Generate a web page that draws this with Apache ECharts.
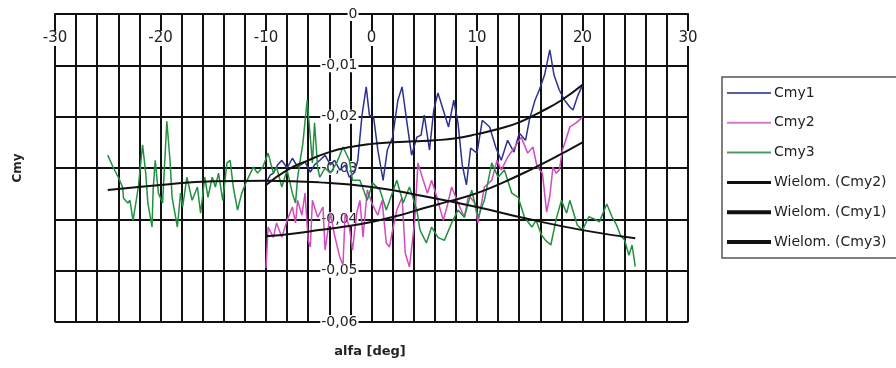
<!DOCTYPE html>
<html>
<head>
<meta charset="utf-8">
<script src="https://cdn.jsdelivr.net/npm/echarts@6/dist/echarts.min.js"></script>
<style>
  html, body { margin: 0; padding: 0; background: #fff; }
  #chart { width: 896px; height: 368px; }
</style>
</head>
<body>
<div id="chart"></div>
<script>
// Measured moment coefficient Cmy against angle of attack alfa [deg]
const cmy1 = [
  [-10,-0.0329],[-9.6,-0.0314],[-9.3,-0.0310],[-8.9,-0.0294],[-8.5,-0.0285],[-8,-0.0300],[-7.5,-0.0281],
  [-7,-0.0298],[-6.3,-0.0288],[-5.8,-0.0308],[-5.4,-0.0294],[-4.9,-0.0285],[-4.4,-0.0275],[-3.9,-0.0294],
  [-3.5,-0.0285],[-3,-0.0304],[-2.5,-0.0294],[-2.1,-0.0318],[-1.6,-0.0308],[-1.3,-0.0285],[-0.9,-0.0197],
  [-0.5,-0.0142],[-0.2,-0.0197],[0.2,-0.0201],[0.6,-0.0265],[1.1,-0.0324],[1.5,-0.0265],[2,-0.0240],
  [2.5,-0.0168],[2.9,-0.0142],[3.3,-0.0203],[3.8,-0.0275],[4.3,-0.0240],[4.7,-0.0236],[5,-0.0197],
  [5.5,-0.0265],[5.9,-0.0187],[6.3,-0.0154],[6.8,-0.0187],[7.3,-0.0220],[7.8,-0.0168],[8.2,-0.0212],
  [8.6,-0.0294],[9,-0.0333],[9.4,-0.0261],[10,-0.0271],[10.5,-0.0207],[11.2,-0.0220],[11.8,-0.0261],
  [12.3,-0.0285],[12.9,-0.0246],[13.5,-0.0269],[14,-0.0232],[14.6,-0.0246],[15,-0.0203],[15.5,-0.0168],
  [15.9,-0.0148],[16.4,-0.0119],[16.9,-0.0070],[17.3,-0.0119],[17.8,-0.0148],[18.3,-0.0168],[18.8,-0.0181],
  [19.1,-0.0187],[19.5,-0.0162],[20,-0.0138]
];

const cmy2 = [
  [-10,-0.0495],[-9.8,-0.0415],[-9.3,-0.0435],[-9,-0.0407],[-8.5,-0.0435],[-8,-0.0402],[-7.5,-0.0376],
  [-7.2,-0.0407],[-7,-0.0363],[-6.6,-0.0392],[-6.3,-0.0349],[-6,-0.0441],[-5.8,-0.0454],[-5.6,-0.0363],
  [-5.1,-0.0396],[-4.6,-0.0376],[-4.4,-0.0460],[-3.9,-0.0388],[-3.5,-0.0431],[-3,-0.0474],[-2.7,-0.0489],
  [-2.5,-0.0388],[-2.1,-0.0415],[-1.8,-0.0460],[-1.4,-0.0388],[-1.1,-0.0363],[-0.8,-0.0435],[-0.4,-0.0343],
  [0.1,-0.0372],[0.6,-0.0392],[1,-0.0363],[1.4,-0.0446],[1.7,-0.0454],[2,-0.0421],[2.4,-0.0382],
  [2.9,-0.0357],[3.2,-0.0466],[3.6,-0.0493],[4.1,-0.0402],[4.4,-0.0290],[4.9,-0.0324],[5.3,-0.0349],
  [5.7,-0.0324],[6.2,-0.0357],[6.8,-0.0402],[7.2,-0.0372],[7.6,-0.0337],[8.1,-0.0363],[8.8,-0.0396],
  [9.2,-0.0353],[9.8,-0.0368],[10.1,-0.0407],[10.7,-0.0337],[11.4,-0.0324],[11.9,-0.0285],[12.3,-0.0304],
  [12.9,-0.0279],[13.6,-0.0259],[14.2,-0.0240],[14.8,-0.0271],[15.3,-0.0259],[15.7,-0.0298],[16.2,-0.0310],
  [16.6,-0.0386],[16.9,-0.0355],[17.2,-0.0298],[17.5,-0.0310],[17.8,-0.0304],[18.1,-0.0265],[18.5,-0.0240],
  [18.8,-0.0220],[19.4,-0.0212],[20,-0.0201]
];

const cmy3 = [
  [-25,-0.0275],[-24.5,-0.0298],[-24,-0.0318],[-23.6,-0.0337],[-23.5,-0.0359],[-23.1,-0.0368],[-22.9,-0.0363],
  [-22.6,-0.0402],[-22.1,-0.0337],[-21.7,-0.0255],[-21.4,-0.0310],[-21.2,-0.0368],[-20.8,-0.0415],[-20.7,-0.0343],
  [-20.5,-0.0285],[-20.2,-0.0349],[-19.8,-0.0368],[-19.4,-0.0209],[-19.1,-0.0285],[-18.9,-0.0357],[-18.4,-0.0415],
  [-18.1,-0.0349],[-17.9,-0.0376],[-17.5,-0.0318],[-17,-0.0363],[-16.5,-0.0337],[-16.2,-0.0388],[-15.8,-0.0318],
  [-15.5,-0.0357],[-15.1,-0.0318],[-14.8,-0.0337],[-14.5,-0.0310],[-14.1,-0.0363],[-13.7,-0.0290],[-13.4,-0.0285],
  [-13.1,-0.0337],[-12.7,-0.0382],[-12.3,-0.0349],[-11.8,-0.0324],[-11.2,-0.0298],[-10.8,-0.0310],[-10.3,-0.0298],
  [-9.8,-0.0271],[-9.3,-0.0310],[-9,-0.0298],[-8.5,-0.0337],[-8,-0.0304],[-7.5,-0.0349],[-7.2,-0.0368],
  [-7,-0.0318],[-6.5,-0.0251],[-6.1,-0.0168],[-5.8,-0.0240],[-5.6,-0.0290],[-5.4,-0.0212],[-5.1,-0.0300],
  [-4.9,-0.0318],[-4.4,-0.0300],[-3.9,-0.0310],[-3.3,-0.0290],[-2.7,-0.0259],[-2.1,-0.0285],[-1.8,-0.0324],
  [-1.1,-0.0324],[-0.4,-0.0363],[0.1,-0.0329],[0.8,-0.0343],[1.4,-0.0382],[2.4,-0.0324],[3,-0.0368],
  [3.6,-0.0337],[4.3,-0.0382],[4.6,-0.0421],[5.2,-0.0446],[5.7,-0.0415],[6.3,-0.0435],[6.9,-0.0441],
  [7.6,-0.0407],[8.2,-0.0382],[8.8,-0.0396],[9.5,-0.0343],[10.1,-0.0396],[10.7,-0.0363],[11.4,-0.0290],
  [12,-0.0318],[12.6,-0.0304],[13.3,-0.0349],[13.9,-0.0357],[14.5,-0.0396],[15.2,-0.0415],[15.6,-0.0402],
  [16.1,-0.0430],[16.5,-0.0441],[17,-0.0450],[17.5,-0.0400],[18,-0.0363],[18.5,-0.0388],[18.8,-0.0363],
  [19.5,-0.0411],[20,-0.0421],[20.6,-0.0395],[21.2,-0.0400],[21.6,-0.0405],[22.3,-0.0370],[22.8,-0.0395],
  [23.2,-0.0410],[23.6,-0.0431],[24,-0.0441],[24.4,-0.0470],[24.7,-0.0450],[25,-0.0492]
];

// Polynomial trend curves ("Wielom.") sampled along alfa
const trendCmy1 = [
  [-10,-0.0333],[-8,-0.0304],[-6,-0.0285],[-4,-0.0269],[-2,-0.0259],[0,-0.0253],[2,-0.0250],[4,-0.0248],
  [6,-0.0246],[8,-0.0242],[10,-0.0234],[12,-0.0224],[14,-0.0211],[16,-0.0191],[18,-0.0168],[20,-0.0138]
];
const trendCmy2 = [
  [-10,-0.0433],[-7.5,-0.0428],[-5,-0.0421],[-2.5,-0.0414],[0,-0.0405],[2.5,-0.0393],[5,-0.0378],
  [7.5,-0.0364],[10,-0.0349],[12.5,-0.0328],[15,-0.0304],[17.5,-0.0278],[20,-0.0250]
];
const trendCmy3 = [
  [-25,-0.0343],[-20,-0.0333],[-15,-0.0326],[-10,-0.0325],[-5,-0.0328],[0,-0.0337],[5,-0.0355],
  [10,-0.0376],[15,-0.0400],[20,-0.0421],[25,-0.0437]
];

const xMin = -30, xMax = 30, xGridStep = 2, xLabelStep = 10;
const yMin = -0.06, yMax = 0, yStep = 0.01;

const FONT = 'DejaVu Sans, Verdana, sans-serif';
const GRID = { left: 55, right: 208, top: 14, bottom: 46 };
const chartEl = document.getElementById('chart');
const chart = echarts.init(chartEl, null, { renderer: 'canvas' });

// The value axis sits on alfa = 0, inside the plot
const plotWidth = chartEl.clientWidth - GRID.left - GRID.right;
const yAxisShift = plotWidth * (0 - xMin) / (xMax - xMin);

function dataSeries(name, data, color) {
  return {
    name, type: 'line', data, symbol: 'none', smooth: false,
    lineStyle: { color, width: 1.5 }, itemStyle: { color }, z: 3, silent: true
  };
}
function trendSeries(name, data) {
  return {
    name, type: 'line', data, symbol: 'none', smooth: true,
    lineStyle: { color: '#111', width: 2 }, itemStyle: { color: '#111' }, z: 4, silent: true
  };
}

chart.setOption({
  animation: false,
  backgroundColor: '#fff',
  grid: Object.assign({
    show: true, borderColor: '#8a8a8a', borderWidth: 1.5, backgroundColor: '#fff'
  }, GRID),
  xAxis: {
    type: 'value', min: xMin, max: xMax, interval: xGridStep, position: 'top',
    axisLine: { onZero: false, lineStyle: { color: '#111', width: 2 } },
    axisTick: { show: false },
    axisLabel: {
      inside: true, margin: 17, color: '#222', fontFamily: FONT, fontSize: 15,
      backgroundColor: '#fff', padding: [0, 1],
      showMinLabel: true, showMaxLabel: true,
      formatter: v => (v % xLabelStep === 0 ? String(v) : '')
    },
    splitLine: { show: true, lineStyle: { color: '#111', width: 2 } }
  },
  yAxis: {
    type: 'value', min: yMin, max: yMax, interval: yStep, position: 'left',
    offset: -yAxisShift,
    axisLine: { onZero: false, lineStyle: { color: '#111', width: 2 } },
    axisTick: { show: false },
    axisLabel: {
      margin: 13, color: '#222', fontFamily: FONT, fontSize: 14,
      backgroundColor: '#fff', padding: [0, 1],
      formatter: v => (Math.abs(v) < 1e-9 ? '0' : v.toFixed(2).replace('.', ','))
    },
    splitLine: { show: true, lineStyle: { color: '#111', width: 2 } }
  },
  legend: {
    orient: 'vertical', left: 722, top: 77,
    padding: [9, 40, 9, 3], itemGap: 15.8, itemWidth: 44, itemHeight: 14,
    borderColor: '#555', borderWidth: 1.5, backgroundColor: '#fff',
    itemStyle: { opacity: 0 },
    textStyle: { fontFamily: FONT, fontSize: 14, color: '#222', padding: [0, 0, 0, -2] },
    data: [
      { name: 'Cmy1', lineStyle: { width: 2, color: '#5a5c9e' } },
      { name: 'Cmy2', lineStyle: { width: 2, color: '#d878cc' } },
      { name: 'Cmy3', lineStyle: { width: 2, color: '#4e9a66' } },
      { name: 'Wielom. (Cmy2)', lineStyle: { width: 3 } },
      { name: 'Wielom. (Cmy1)', lineStyle: { width: 4 } },
      { name: 'Wielom. (Cmy3)', lineStyle: { width: 4 } }
    ]
  },
  graphic: [
    {
      type: 'text', x: 370, y: 352,
      style: {
        text: 'alfa [deg]', fontFamily: FONT, fontSize: 13, fontWeight: 'bold', fill: '#222',
        align: 'center', verticalAlign: 'middle'
      }
    },
    {
      type: 'text', x: 18, y: 168, rotation: Math.PI / 2,
      style: {
        text: 'Cmy', fontFamily: FONT, fontSize: 12, fontWeight: 'bold', fill: '#222',
        align: 'center', verticalAlign: 'middle'
      }
    }
  ],
  series: [
    dataSeries('Cmy1', cmy1, '#2e3192'),
    dataSeries('Cmy2', cmy2, '#d24cc0'),
    dataSeries('Cmy3', cmy3, '#22913f'),
    trendSeries('Wielom. (Cmy2)', trendCmy2),
    trendSeries('Wielom. (Cmy1)', trendCmy1),
    trendSeries('Wielom. (Cmy3)', trendCmy3)
  ]
});
</script>
</body>
</html>
